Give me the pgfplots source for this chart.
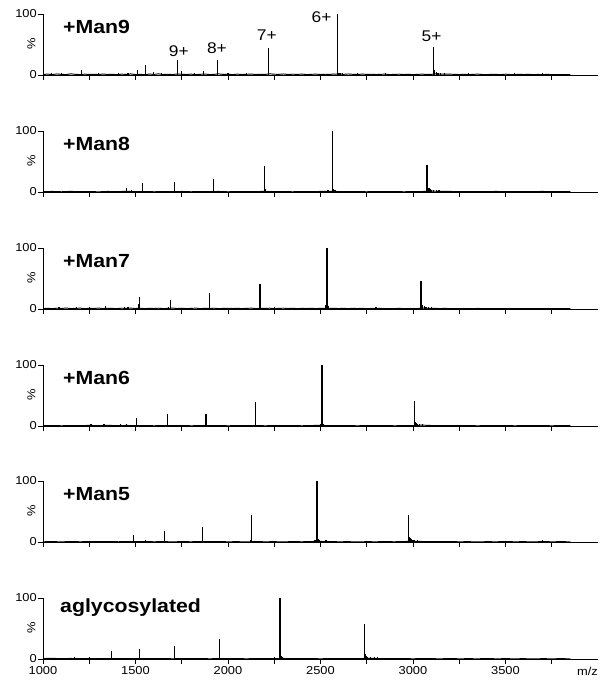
\documentclass[border=0pt]{standalone}
\usepackage{fontspec}
\setmainfont{Liberation Sans}[FakeStretch=1.12]
\usepackage{pgfplots}
\pgfplotsset{compat=1.18}
\pgfplotsset{
  spec/.style={
    scale only axis, width=555pt, height=61pt,
    anchor=south west,
    xmin=1000, xmax=4000, ymin=0, ymax=100,
    axis x line*=bottom, axis y line*=left,
    xtick={1000,1250,...,3750}, ytick={0,100},
    xticklabels={},
    tick align=outside, major tick length=5pt,
    tick style={black, line width=0.7pt},
    axis line style={black, line width=0.7pt},
    /pgf/number format/assume math mode=true,
    tick label style={font=\fontsize{11.5}{13}\selectfont},
    yticklabel style={inner sep=1pt},
    xticklabel style={inner sep=2pt},
    clip=false,
  },
  noise/.style={black, line width=0.95pt},
  peaks/.style={black, ycomb, line width=1.2pt},
}
\newcommand{\ttl}{\bfseries\fontsize{19}{20}\selectfont}
\newcommand{\chg}{\fontsize{15.5}{17}\selectfont}
\newcommand{\pct}{\node[rotate=90, inner sep=0pt, font=\fontsize{11.5}{13}\selectfont] at ([xshift=-11.5pt]axis cs:1000,51) {\%};}
\begin{document}
\begin{tikzpicture}
\path[use as bounding box] (0,0) rectangle (604pt,683pt);

% ---------------- +Man9
\begin{axis}[spec, at={(43pt,608pt)}]
\addplot[noise] coordinates {(1000,0.9)(1025,1.4)(1050,0.7)(1075,1.7)(1100,1.0)(1125,0.7)(1150,1.9)(1175,1.1)(1200,0.6)(1225,1.4)(1250,0.8)(1275,1.2)(1300,0.7)(1325,1.6)(1350,0.8)(1375,1.1)(1400,0.5)(1425,1.4)(1450,0.9)(1475,1.8)(1500,0.7)(1525,1.0)(1550,0.6)(1575,1.5)(1600,1.0)(1625,1.9)(1650,0.8)(1675,1.2)(1700,0.7)(1725,1.6)(1750,1.1)(1775,0.8)(1800,1.4)(1825,0.6)(1850,1.1)(1875,1.6)(1900,0.7)(1925,1.0)(1950,1.8)(1975,0.9)(2000,1.3)(2025,0.6)(2050,1.4)(2075,0.8)(2100,1.1)(2125,1.6)(2150,0.7)(2175,1.2)(2200,0.9)(2225,1.9)(2250,1.3)(2275,1.0)(2300,1.7)(2325,0.8)(2350,1.3)(2375,1.0)(2400,1.5)(2425,0.7)(2450,1.1)(2475,1.4)(2500,0.8)(2525,1.2)(2550,1.0)(2575,1.6)(2600,1.5)(2625,1.1)(2650,1.7)(2675,1.1)(2700,0.8)(2725,1.5)(2750,1.0)(2775,1.2)(2800,0.8)(2825,1.1)(2850,1.4)(2875,0.7)(2900,1.0)(2925,1.3)(2950,0.8)(2975,1.1)(3000,0.7)(3025,1.0)(3050,1.4)(3075,0.8)(3100,1.1)(3125,1.8)(3150,1.5)(3175,1.3)(3200,1.4)(3225,1.0)(3250,0.8)(3275,1.2)(3300,0.7)(3325,1.0)(3350,1.4)(3375,0.8)(3400,0.6)(3425,1.1)(3450,0.9)(3475,0.7)(3500,1.3)(3525,0.8)(3550,0.7)(3575,1.0)(3600,0.8)(3625,1.1)(3650,0.6)(3675,0.9)(3700,0.7)(3725,1.0)(3750,0.7)(3775,0.8)(3800,0.8)(3825,0.6)(3850,0.7)};
\addplot[peaks] coordinates {(1045,3)(1100,3)(1208,8)(1300,3.5)(1410,3)(1460,4)(1510,8)(1553,17)(1597,5)(1640,3)(1727,24)(1749,6)(1820,4)(1869,6)(1944,24)(2000,3)(2100,3)(2221,44)(2591,100)(2596,4)(2605,3)(2620,2.5)(2700,3)(2850,3.5)(3109,46)(3113,9)(3118,7)(3125,5)(3135,4)(3150,3)(3170,2.5)(3300,3)(3550,3.5)(3700,2.5)};
\node[anchor=base west, inner sep=0pt, font=\ttl] at (axis cs:1108,68) {+Man9};
\node[anchor=base, inner sep=0pt, font=\chg] at (axis cs:1734,30) {9+};
\node[anchor=base, inner sep=0pt, font=\chg] at (axis cs:1940,35.6) {8+};
\node[anchor=base, inner sep=0pt, font=\chg] at (axis cs:2210,56) {7+};
\node[anchor=base, inner sep=0pt, font=\chg] at (axis cs:2506,86) {6+};
\node[anchor=base, inner sep=0pt, font=\chg] at (axis cs:3100,55) {5+};
\pct
\end{axis}

% ---------------- +Man8
\begin{axis}[spec, at={(43pt,491pt)}]
\addplot[noise] coordinates {(1000,0.6)(1050,0.9)(1100,0.4)(1150,1.0)(1200,0.5)(1250,0.8)(1300,0.3)(1350,0.9)(1400,0.6)(1450,1.1)(1500,0.5)(1550,0.8)(1600,0.4)(1650,0.7)(1700,0.5)(1750,0.9)(1800,0.4)(1850,0.8)(1900,0.6)(1950,0.9)(2000,0.4)(2050,0.7)(2100,0.5)(2150,0.8)(2200,0.9)(2250,0.5)(2300,0.7)(2350,0.4)(2400,0.8)(2450,0.6)(2500,0.9)(2550,1.0)(2600,0.8)(2650,0.5)(2700,0.7)(2750,0.4)(2800,0.8)(2850,0.5)(2900,0.7)(2950,0.4)(3000,0.6)(3050,0.8)(3100,1.4)(3150,1.0)(3200,0.9)(3250,0.6)(3300,0.8)(3350,0.5)(3400,0.7)(3450,0.9)(3500,0.6)(3550,0.8)(3600,0.5)(3650,0.7)(3700,0.9)(3750,0.6)(3800,0.8)(3850,0.7)};
\addplot[peaks] coordinates {(1170,2)(1400,2)(1453,6)(1480,2.5)(1539,15)(1710,17)(1923,21)(2198,43)(2203,5)(2540,3)(2564,100)(2569,5)(2578,3)(3076,44)(3080,8)(3086,6)(3092,5)(3100,4)(3110,3.5)(3125,3)(3140,2.5)};
\node[anchor=base west, inner sep=0pt, font=\ttl] at (axis cs:1108,68) {+Man8};
\pct
\end{axis}

% ---------------- +Man7
\begin{axis}[spec, at={(43pt,374pt)}]
\addplot[noise] coordinates {(1000,0.7)(1025,1.1)(1050,0.6)(1075,1.3)(1100,0.8)(1125,1.6)(1150,0.7)(1175,1.0)(1200,1.4)(1225,0.6)(1250,1.1)(1275,0.8)(1300,1.5)(1325,0.7)(1350,1.2)(1375,0.9)(1400,0.7)(1425,1.3)(1450,1.0)(1475,1.4)(1500,0.8)(1525,1.2)(1550,0.7)(1575,1.1)(1600,0.8)(1625,1.3)(1650,0.6)(1675,1.0)(1700,1.5)(1725,0.8)(1750,1.1)(1775,0.7)(1800,1.0)(1825,1.4)(1850,0.7)(1875,1.1)(1900,0.8)(1925,1.3)(1950,0.6)(1975,1.0)(2000,1.2)(2025,0.8)(2050,1.1)(2075,0.7)(2100,1.0)(2125,1.4)(2150,0.7)(2175,1.1)(2200,0.9)(2225,1.3)(2250,0.6)(2275,1.0)(2300,1.3)(2325,0.8)(2350,1.1)(2375,0.7)(2400,1.0)(2425,0.8)(2450,1.2)(2475,0.7)(2500,1.1)(2525,0.9)(2550,1.2)(2575,1.0)(2600,0.8)(2625,1.1)(2650,0.7)(2675,1.0)(2700,0.8)(2725,1.1)(2750,0.6)(2775,0.9)(2800,0.7)(2825,1.0)(2850,0.6)(2875,0.8)(2900,0.7)(2925,1.0)(2950,0.7)(2975,0.6)(3000,0.8)(3025,0.7)(3050,1.6)(3075,1.2)(3100,1.1)(3125,0.9)(3150,0.8)(3175,1.0)(3200,0.6)(3225,0.8)(3250,0.7)(3275,0.5)(3300,0.8)(3325,0.6)(3350,0.9)(3375,0.7)(3400,0.5)(3425,0.8)(3450,0.6)(3475,0.8)(3500,0.7)(3525,0.5)(3550,0.7)(3575,0.6)(3600,0.8)(3625,0.5)(3650,0.7)(3675,0.5)(3700,0.7)(3725,0.6)(3750,0.5)(3775,0.7)(3800,0.5)(3825,0.6)(3850,0.5)};
\addplot[peaks] coordinates {(1087,4)(1180,3)(1250,4)(1337,5)(1440,3)(1460,3)(1517,8)(1521,19)(1680,3)(1690,14)(1901,26)(2173,41)(2250,3)(2525,6)(2535,100)(2540,5)(2800,2.5)(3043,46)(3047,9)(3052,6)(3060,5)(3070,4)(3085,3.5)(3100,3)};
\node[anchor=base west, inner sep=0pt, font=\ttl] at (axis cs:1108,68) {+Man7};
\pct
\end{axis}

% ---------------- +Man6
\begin{axis}[spec, at={(43pt,257pt)}]
\addplot[noise] coordinates {(1000,0.5)(1050,0.8)(1100,0.4)(1150,0.7)(1200,0.5)(1250,1.0)(1300,0.6)(1350,1.2)(1400,0.5)(1450,0.9)(1500,0.6)(1550,0.8)(1600,0.4)(1650,0.7)(1700,0.5)(1750,0.8)(1800,0.4)(1850,0.6)(1900,0.5)(1950,0.7)(2000,0.4)(2050,0.6)(2100,0.5)(2150,0.7)(2200,0.4)(2250,0.6)(2300,0.5)(2350,0.7)(2400,0.4)(2450,0.8)(2500,1.0)(2550,0.7)(2600,0.5)(2650,0.6)(2700,0.4)(2750,0.6)(2800,0.5)(2850,0.7)(2900,0.4)(2950,0.6)(3000,0.8)(3050,1.4)(3100,0.8)(3150,0.6)(3200,0.7)(3250,0.5)(3300,0.6)(3350,0.4)(3400,0.6)(3450,0.5)(3500,0.7)(3550,0.4)(3600,0.6)(3650,0.5)(3700,0.6)(3750,0.4)(3800,0.6)(3850,0.5)};
\addplot[peaks] coordinates {(1260,2.5)(1330,2.5)(1420,2.5)(1450,2.5)(1505,13)(1672,20)(1881,20)(2150,40)(2460,2)(2500,3)(2508,100)(2513,4)(2950,2)(3009,41)(3013,7)(3018,5)(3025,4)(3035,3.5)(3050,3)};
\node[anchor=base west, inner sep=0pt, font=\ttl] at (axis cs:1108,68) {+Man6};
\pct
\end{axis}

% ---------------- +Man5
\begin{axis}[spec, at={(43pt,141pt)}]
\addplot[noise] coordinates {(1000,0.4)(1050,0.6)(1100,0.3)(1150,0.7)(1200,0.4)(1250,0.6)(1300,0.5)(1350,0.8)(1400,0.4)(1450,0.6)(1500,0.5)(1550,0.7)(1600,0.4)(1650,0.6)(1700,0.3)(1750,0.6)(1800,0.4)(1850,0.7)(1900,0.5)(1950,0.6)(2000,0.4)(2050,0.5)(2100,0.3)(2150,0.6)(2200,0.4)(2250,0.5)(2300,0.3)(2350,0.6)(2400,0.4)(2450,0.7)(2500,0.9)(2550,0.6)(2600,0.4)(2650,0.5)(2700,0.3)(2750,0.5)(2800,0.4)(2850,0.6)(2900,0.4)(2950,0.7)(3000,1.3)(3050,0.8)(3100,0.6)(3150,0.5)(3200,0.6)(3250,0.4)(3300,0.5)(3350,0.3)(3400,0.5)(3450,0.4)(3500,0.6)(3550,0.4)(3600,0.5)(3650,0.3)(3700,0.6)(3750,0.4)(3800,0.5)(3850,0.4)};
\addplot[peaks] coordinates {(1400,2)(1489,11)(1555,2.5)(1655,18)(1861,24)(2120,3)(2127,44)(2470,3)(2481,100)(2486,5)(2495,4)(2530,3)(2880,2)(2977,44)(2981,8)(2986,6)(2993,4.5)(3000,4)(3010,3.5)(3025,3)(3700,2.5)};
\node[anchor=base west, inner sep=0pt, font=\ttl] at (axis cs:1108,68) {+Man5};
\pct
\end{axis}

% ---------------- aglycosylated
\begin{axis}[spec, at={(43pt,24pt)}, xticklabels={1000,,1500,,2000,,2500,,3000,,3500,}]
\addplot[noise] coordinates {(1000,0.8)(1050,1.0)(1100,0.6)(1150,0.9)(1200,0.5)(1250,0.9)(1300,0.6)(1350,0.8)(1400,0.5)(1450,0.7)(1500,0.6)(1550,0.8)(1600,0.5)(1650,0.7)(1700,0.4)(1750,0.6)(1800,0.5)(1850,0.7)(1900,0.4)(1950,0.6)(2000,0.5)(2050,0.6)(2100,0.4)(2150,0.6)(2200,0.5)(2250,0.7)(2300,0.9)(2350,0.6)(2400,0.5)(2450,0.6)(2500,0.4)(2550,0.6)(2600,0.5)(2650,0.6)(2700,0.5)(2750,1.2)(2800,0.8)(2850,0.6)(2900,0.5)(2950,0.6)(3000,0.4)(3050,0.6)(3100,0.5)(3150,0.4)(3200,0.6)(3250,0.4)(3300,0.5)(3350,0.4)(3400,0.6)(3450,0.4)(3500,0.5)(3550,0.4)(3600,0.5)(3650,0.3)(3700,0.5)(3750,0.4)(3800,0.5)(3850,0.4)};
\addplot[peaks] coordinates {(1170,3)(1250,2.5)(1369,13)(1521,17)(1711,21)(1955,32)(2250,4)(2281,100)(2286,5)(2295,3)(2737,57)(2741,8)(2747,5)(2755,4)(2770,3.5)(2790,3)(2810,2.5)};
\node[anchor=base west, inner sep=0pt, font=\ttl] at (axis cs:1092,76) {aglycosylated};
\node[anchor=north east, inner sep=0pt, font=\fontsize{11.5}{13}\selectfont] at ([yshift=-8pt]axis cs:4000,0) {m/z};
\pct
\end{axis}
\end{tikzpicture}
\end{document}
